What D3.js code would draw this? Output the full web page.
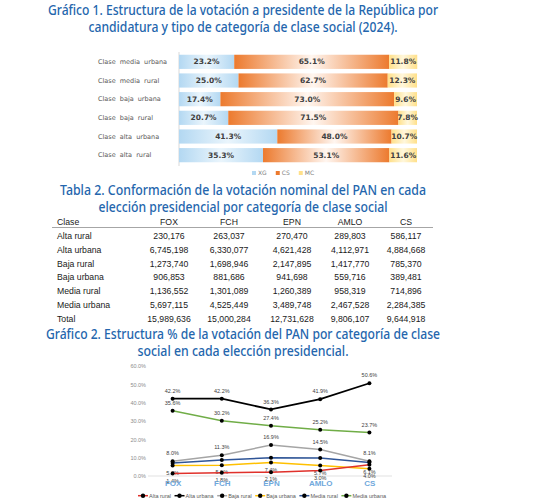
<!DOCTYPE html>
<meta charset="utf-8">
<style>
body { margin: 0; background: #fff; }
svg { display: block; }
.title { font: 500 13.5px "Noto Sans", sans-serif; fill: #2466ad; }
.tbl { font: 8.7px "Liberation Sans", Arial, sans-serif; fill: #1a1a1a; }
.cat { font: 6.5px "DejaVu Sans", sans-serif; fill: #595959; word-spacing: 2px; }
.val { font: bold 7.5px "DejaVu Sans", sans-serif; fill: #404040; }
.leg { font: 6px "DejaVu Sans", sans-serif; fill: #7f7f7f; }
.leg2 { font: 5.5px "Liberation Sans", sans-serif; fill: #595959; }
.lab { font: 5.5px "Liberation Sans", sans-serif; fill: #404040; }
.axis path { display: none; }
.axis--y text { font: 5.5px "Liberation Sans", sans-serif; fill: #8c8c8c; }
.axis--x text { font: bold 8px "Liberation Sans", sans-serif; fill: #6fa8dc; }
</style>
<body>
<svg width="555" height="504"></svg>
<script src="https://cdn.jsdelivr.net/npm/d3@7"></script>
<script>

// ---- data ----
var title1 = ["Gráfico 1. Estructura de la votación a presidente de la República por",
              "candidatura y tipo de categoría de clase social (2024)."];
var title2 = ["Tabla 2. Conformación de la votación nominal del PAN en cada",
              "elección presidencial por categoría de clase social"];
var title3 = ["Gráfico 2. Estructura % de la votación del PAN por categoría de clase",
              "social en cada elección presidencial."];

var barCats = ["Clase media urbana", "Clase media rural", "Clase baja urbana",
               "Clase baja rural", "Clase alta urbana", "Clase alta rural"];
var barKeys = ["XG", "CS", "MC"];
var xgVals = [23.2, 25.0, 17.4, 20.7, 41.3, 35.3];
var csVals = [65.1, 62.7, 73.0, 71.5, 48.0, 53.1];
var mcVals = [11.8, 12.3, 9.6, 7.8, 10.7, 11.6];

var tableCols = ["Clase", "FOX", "FCH", "EPN", "AMLO", "CS"];
var tableRows = ["Alta rural", "Alta urbana", "Baja rural", "Baja urbana", "Media rural", "Media urbana", "Total"];
var tableVals = [
  [230176, 263037, 270470, 289803, 586117],
  [6745198, 6330077, 4621428, 4112971, 4884668],
  [1273740, 1698946, 2147895, 1417770, 785370],
  [906853, 881686, 941698, 559716, 389481],
  [1136552, 1301089, 1260389, 958319, 714896],
  [5697115, 4525449, 3489748, 2467528, 2284385],
  [15989636, 15000284, 12731628, 9806107, 9644918]
];

var elections = ["FOX", "FCH", "EPN", "AMLO", "CS"];
var lineNames = ["Alta rural", "Alta urbana", "Baja rural", "Baja urbana", "Media rural", "Media urbana"];
var altaRural   = [1.4, 1.8, 2.1, 3.0, 6.1];
var altaUrbana  = [42.2, 42.2, 36.3, 41.9, 50.6];
var bajaRural   = [8.0, 11.3, 16.9, 14.5, 8.1];
var bajaUrbana  = [5.7, 5.9, 7.4, 5.7, 4.0];
var mediaRural  = [7.1, 8.7, 9.9, 9.8, 7.4];
var mediaUrbana = [35.6, 30.2, 27.4, 25.2, 23.7];

var svg = d3.select("svg");

function title(lines, y0, widths) {
  lines.forEach(function(t, i) {
    svg.append("text")
        .attr("class", "title")
        .attr("x", 243)
        .attr("y", y0 + i * 17)
        .attr("text-anchor", "middle")
        .attr("textLength", widths[i])
        .attr("lengthAdjust", "spacingAndGlyphs")
        .text(t);
  });
}

// ---- Gráfico 1 ----
title(title1, 15, [390, 309]);

var defs = svg.append("defs");
var gradColors = {XG: ["#b3d8f2", "#eaf5fc"], CS: ["#ec7a2e", "#fff6f0"], MC: ["#ffe08a", "#fff7dc"]};
barKeys.forEach(function(k) {
  var g = defs.append("linearGradient").attr("id", "g-" + k);
  g.append("stop").attr("offset", "0%").attr("stop-color", gradColors[k][0]);
  g.append("stop").attr("offset", "50%").attr("stop-color", gradColors[k][1]);
  g.append("stop").attr("offset", "100%").attr("stop-color", gradColors[k][0]);
});

var barRows = barCats.map(function(c, i) {
  return {cat: c, XG: xgVals[i], CS: csVals[i], MC: mcVals[i]};
});
var stacked = d3.stack().keys(barKeys)(barRows);

var x1 = d3.scaleLinear().domain([0, 100]).range([179, 417]),
    y1 = d3.scaleBand().domain(barCats).range([52.5, 164.5]).paddingInner(0.24).paddingOuter(0.12);

svg.append("line")
    .attr("x1", 179).attr("x2", 179).attr("y1", 52).attr("y2", 166)
    .attr("stroke", "#d9d9d9");

var layer = svg.selectAll(".layer")
  .data(stacked)
  .enter().append("g")
    .attr("class", "layer");

layer.selectAll("rect")
  .data(function(d) { return d.map(function(p) { p.key = d.key; return p; }); })
  .enter().append("rect")
    .attr("x", function(d) { return x1(d[0]); })
    .attr("y", function(d) { return y1(d.data.cat); })
    .attr("width", function(d) { return x1(d[1]) - x1(d[0]); })
    .attr("height", y1.bandwidth())
    .attr("fill", function(d) { return "url(#g-" + d.key + ")"; });

layer.selectAll("text")
  .data(function(d) { return d; })
  .enter().append("text")
    .attr("class", "val")
    .attr("x", function(d) { return (x1(d[0]) + x1(d[1])) / 2; })
    .attr("y", function(d) { return y1(d.data.cat) + y1.bandwidth() / 2; })
    .attr("dy", "0.35em")
    .attr("text-anchor", "middle")
    .text(function(d) { return d.data[d.key].toFixed(1) + "%"; });

svg.selectAll(".cat")
  .data(barCats)
  .enter().append("text")
    .attr("class", "cat")
    .attr("x", 98)
    .attr("y", function(d) { return y1(d) + y1.bandwidth() / 2; })
    .attr("dy", "0.35em")
    .text(function(d) { return d; });

var lx = 252;
barKeys.forEach(function(k) {
  svg.append("rect").attr("x", lx).attr("y", 171).attr("width", 4).attr("height", 4)
      .attr("fill", gradColors[k][0]);
  var t = svg.append("text").attr("class", "leg").attr("x", lx + 6).attr("y", 173).attr("dy", "0.35em").text(k);
  lx += 6 + t.node().getComputedTextLength() + 9;
});

// ---- Tabla 2 ----
title(title2, 195, [366, 289]);

var colX = [57, 169, 229, 292, 350, 406];

svg.selectAll(".th")
  .data(tableCols)
  .enter().append("text")
    .attr("class", "tbl th")
    .attr("x", function(d, i) { return colX[i]; })
    .attr("y", 224.8)
    .attr("text-anchor", function(d, i) { return i ? "middle" : "start"; })
    .text(function(d) { return d; });

svg.append("line")
    .attr("x1", 52).attr("x2", 433).attr("y1", 227.5).attr("y2", 227.5)
    .attr("stroke", "#a6a6a6").attr("stroke-width", 1.2);

var fmt = d3.format(",");
var tr = svg.selectAll(".tr")
  .data(tableRows)
  .enter().append("g")
    .attr("class", "tr")
    .attr("transform", function(d, i) { return "translate(0," + (238.8 + i * 13.85) + ")"; });

tr.append("text")
    .attr("class", "tbl")
    .attr("x", colX[0])
    .text(function(d) { return d; });

tr.selectAll(".num")
  .data(function(d, i) { return tableVals[i]; })
  .enter().append("text")
    .attr("class", "tbl num")
    .attr("x", function(d, j) { return colX[j + 1]; })
    .attr("text-anchor", "middle")
    .text(function(d) { return fmt(d); });

// ---- Gráfico 2 ----
title(title3, 339, [394, 211]);

var xs = d3.scalePoint().domain(elections).range([148, 394]).padding(0.5),
    ys = d3.scaleLinear().domain([0, 60]).range([476, 366]);

var series = [
  {name: lineNames[4], values: mediaRural,  color: "#2f5597", width: 1.5, label: null},
  {name: lineNames[3], values: bajaUrbana,  color: "#ffc000", width: 1.5, label: "below"},
  {name: lineNames[2], values: bajaRural,   color: "#a5a5a5", width: 1.5, label: "above"},
  {name: lineNames[0], values: altaRural,   color: "#e0312b", width: 1.5, label: "below"},
  {name: lineNames[5], values: mediaUrbana, color: "#70ad47", width: 1.5, label: "above"},
  {name: lineNames[1], values: altaUrbana,  color: "#000000", width: 1.8, label: "above"}
];

svg.append("line")
    .attr("x1", 148).attr("x2", 392).attr("y1", ys(0)).attr("y2", ys(0))
    .attr("stroke", "#d9d9d9").attr("stroke-width", 0.8);

svg.append("g")
    .attr("class", "axis axis--y")
    .attr("transform", "translate(148,0)")
    .call(d3.axisLeft(ys).tickValues(d3.range(0, 61, 10)).tickSize(0).tickPadding(2)
      .tickFormat(function(d) { return d.toFixed(1) + "%"; }));

var line = d3.line()
    .x(function(d, i) { return xs(elections[i]); })
    .y(function(d) { return ys(d); });

var s = svg.selectAll(".series")
  .data(series)
  .enter().append("g")
    .attr("class", "series");

s.append("path")
    .attr("fill", "none")
    .attr("stroke", function(d) { return d.color; })
    .attr("stroke-width", function(d) { return d.width; })
    .attr("d", function(d) { return line(d.values); });

s.selectAll("circle")
  .data(function(d) { return d.values; })
  .enter().append("circle")
    .attr("cx", function(d, i) { return xs(elections[i]); })
    .attr("cy", function(d) { return ys(d); })
    .attr("r", 2)
    .attr("fill", "#000");

s.filter(function(d) { return d.label; }).selectAll(".lab")
  .data(function(d) { return d.values.map(function(v) { return {v: v, pos: d.label}; }); })
  .enter().append("text")
    .attr("class", "lab")
    .attr("x", function(d, i) { return xs(elections[i]); })
    .attr("y", function(d) { return ys(d.v) + (d.pos === "above" ? -7.8 : 7.2); })
    .attr("dy", "0.35em")
    .attr("text-anchor", "middle")
    .text(function(d) { return d.v.toFixed(1) + "%"; });

svg.append("g")
    .attr("class", "axis axis--x")
    .attr("transform", "translate(0," + ys(0) + ")")
    .call(d3.axisBottom(xs).tickSize(0).tickPadding(4));

var legOrder = [3, 5, 2, 1, 0, 4];
var gx = 143;
legOrder.forEach(function(i) {
  var d = series[i];
  svg.append("line").attr("x1", gx - 5).attr("x2", gx + 5).attr("y1", 495.7).attr("y2", 495.7)
      .attr("stroke", d.color).attr("stroke-width", 1.5);
  svg.append("circle").attr("cx", gx).attr("cy", 495.7).attr("r", 2.2).attr("fill", "#000");
  var t = svg.append("text").attr("class", "leg2").attr("x", gx + 6).attr("y", 495.7).attr("dy", "0.35em").text(d.name);
  gx += 6 + t.node().getComputedTextLength() + 8.5;
});

</script>
</body>
